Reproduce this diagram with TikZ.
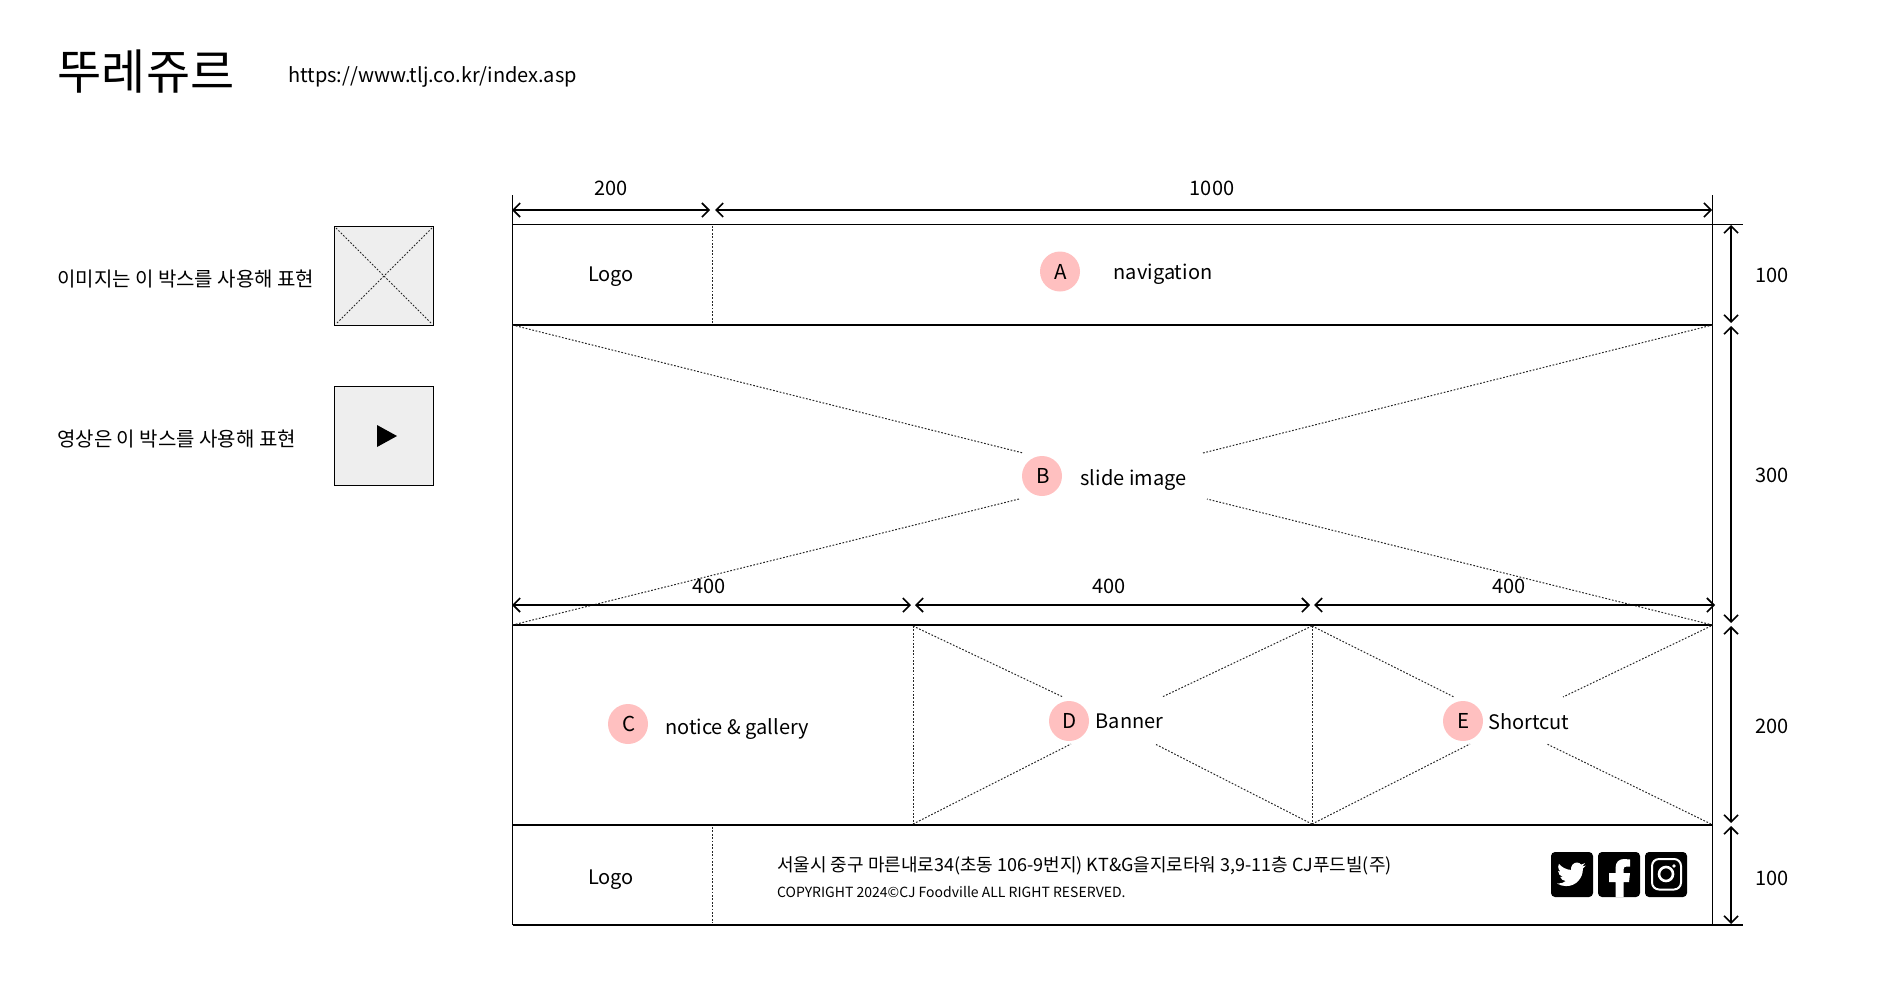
\documentclass[tikz,border=0pt]{standalone}
\usepackage{fontspec}
\setmainfont{Noto Sans CJK KR}
\usetikzlibrary{arrows.meta}
\definecolor{pinkdot}{HTML}{FFC0C0}
\definecolor{boxgray}{HTML}{EEEEEE}
\tikzset{
  txt/.style={inner sep=0pt,font=\fontsize{20}{24}\selectfont},
  dimtxt/.style={txt,font=\fontsize{20}{24}\selectfont},
  dot/.style={circle,fill=pinkdot,minimum size=40pt,inner sep=0pt},
  dotlabel/.style={inner sep=0pt,xshift=1pt,font=\fontsize{20.5}{24}\selectfont},
  rowline/.style={line width=2pt},
  frameline/.style={line width=1.1pt},
  dimline/.style={line width=1.8pt,{Straight Barb[length=7pt,width=14pt,line width=1.6pt]}-{Straight Barb[length=7pt,width=14pt,line width=1.6pt]}},
  dotline/.style={line width=1pt,dash pattern=on 1.7pt off 1.7pt,black!85},
  samplebox/.style={draw,line width=1pt,fill=boxgray,minimum width=99pt,minimum height=99pt,inner sep=0pt},
  social/.style={fill=black,rounded corners=4pt,minimum width=42pt,minimum height=45pt,inner sep=0pt}
}
\begin{document}
\begin{tikzpicture}[x=1pt,y=-1pt]
  \useasboundingbox (0,0) rectangle (1900,997);
  %title
  \node[txt,anchor=west,font=\fontsize{48}{56}\selectfont] (title) at (57.5,72) {뚜레쥬르};
  \node[txt,anchor=west] (url) at (288,77) {https://www.tlj.co.kr/index.asp};
  %sample boxes
  \node[txt,anchor=west] (imgnote) at (57,279.5) {이미지는 이 박스를 사용해 표현};
  \node[txt,anchor=west] (videonote) at (57,439) {영상은 이 박스를 사용해 표현};
  \node[samplebox] (imgbox) at (384,276) {};
  \node[samplebox] (videobox) at (384,436) {};
  \draw[dotline] ([shift={(2,2)}]imgbox.north west) -- ([shift={(-2,-2)}]imgbox.south east);
  \draw[dotline] ([shift={(-2,2)}]imgbox.north east) -- ([shift={(2,-2)}]imgbox.south west);
  \fill (377,425) -- (397,436) -- (377,447) -- cycle;
  %frame
  \coordinate (tl) at (512.5,224.5);
  \coordinate (tr) at (1712.5,224.5);
  \coordinate (bl) at (512.5,925);
  \coordinate (br) at (1712.5,925);
  \coordinate (rowa) at (512.5,325);
  \coordinate (rowb) at (512.5,625);
  \coordinate (rowc) at (512.5,825);
  \coordinate (rowa2) at (1712.5,325);
  \coordinate (rowb2) at (1712.5,625);
  \coordinate (rowc2) at (1712.5,825);
  \coordinate (ltick) at (512.5,195);
  \coordinate (rtick) at (1712.5,195);
  \draw[frameline] (ltick) -- (bl);
  \draw[frameline] (rtick) -- (br);
  \draw[frameline] (tl) -- (1743,224.5) coordinate (topend);
  \draw[frameline] (bl) -- (1743,925) coordinate (botend);
  \draw[rowline] (rowa) -- (rowa2);
  \draw[rowline] (rowb) -- (rowb2);
  \draw[rowline] (rowc) -- (rowc2);
  %top dims
  \draw[dimline] (512,210) coordinate (da) -- (710,210) coordinate (db);
  \draw[dimline] (715,210) coordinate (dc) -- (1712,210) coordinate (dd);
  \node[dimtxt] (wa) at (611,188) {200};
  \node[dimtxt] (wb) at (1212,188) {1000};
  %right dims
  \draw[dimline] (1731,225) coordinate (ha) -- (1731,323) coordinate (hb);
  \draw[dimline] (1731,326) coordinate (hc) -- (1731,623) coordinate (hd);
  \draw[dimline] (1731,626) coordinate (he) -- (1731,823) coordinate (hf);
  \draw[dimline] (1731,826) coordinate (hg) -- (1731,924) coordinate (hh);
  \node[dimtxt] (va) at (1772,275) {100};
  \node[dimtxt] (vb) at (1772,475.5) {300};
  \node[dimtxt] (vc) at (1772,726) {200};
  \node[dimtxt] (vd) at (1772,878.5) {100};
  %header
  \node[txt] (logoa) at (611,277) {Logo};
  \draw[dotline] (712.5,226) coordinate (sa) -- (712.5,323) coordinate (sb);
  \node[dot] (a) at (1060,271.5) {};
  \node[dotlabel] (alabel) at (a) {A};
  \node[txt] (nav) at (1163,274.5) {navigation};
  %slide
  \node[dot] (b) at (1042,476) {};
  \node[dotlabel] (blabel) at (b) {B};
  \node[txt] (slide) at (1133.5,480) {slide image};
  \coordinate (ba) at (1023,453);
  \coordinate (bb) at (1203,453);
  \coordinate (bc) at (1019,499);
  \coordinate (bd) at (1207,499);
  \draw[dotline] (rowa) -- (ba);
  \draw[dotline] (rowa2) -- (bb);
  \draw[dotline] (rowb) -- (bc);
  \draw[dotline] (rowb2) -- (bd);
  %middle dims
  \draw[dimline] (512,605) coordinate (ma) -- (911,605) coordinate (mb);
  \draw[dimline] (915,605) coordinate (mc) -- (1310,605) coordinate (md);
  \draw[dimline] (1314,605) coordinate (me) -- (1715,605) coordinate (mf);
  \node[dimtxt] (xa) at (709,586) {400};
  \node[dimtxt] (xb) at (1109,586) {400};
  \node[dimtxt] (xc) at (1509,586) {400};
  %contents
  \node[dot] (c) at (628,724) {};
  \node[dotlabel] (clabel) at (c) {C};
  \node[txt] (notice) at (737,729) {notice \& gallery};
  \node[dot] (d) at (1069,721) {};
  \node[dotlabel] (dlabel) at (d) {D};
  \node[txt,anchor=west] (banner) at (1095.5,721.5) {Banner};
  \node[dot] (e) at (1463,721) {};
  \node[dotlabel] (elabel) at (e) {E};
  \node[txt,anchor=west] (shortcut) at (1488,721.5) {Shortcut};
  \coordinate (pa) at (913,626);
  \coordinate (pb) at (913,824);
  \coordinate (qa) at (1312,626);
  \coordinate (qb) at (1312,824);
  \coordinate (ra) at (1711,626);
  \coordinate (rb) at (1711,824);
  \draw[dotline] (pa) -- (pb);
  \draw[dotline] (qa) -- (qb);
  \draw[dotline] (pa) -- (1063,697) coordinate (da1);
  \draw[dotline] (pb) -- (1071,744) coordinate (da2);
  \draw[dotline] (qa) -- (1162,697) coordinate (da3);
  \draw[dotline] (qb) -- (1155,744) coordinate (da4);
  \draw[dotline] (qa) -- (1454,697) coordinate (ea1);
  \draw[dotline] (qb) -- (1470,744) coordinate (ea2);
  \draw[dotline] (ra) -- (1563,697) coordinate (ea3);
  \draw[dotline] (rb) -- (1547,744) coordinate (ea4);
  %footer
  \node[txt] (logob) at (611,880) {Logo};
  \draw[dotline] (712.5,827) coordinate (sc) -- (712.5,923) coordinate (sd);
  \node[txt,anchor=west,font=\fontsize{18}{22}\selectfont] (addr) at (777,865.5) {서울시 중구 마른내로34(초동 106-9번지) KT\&G을지로타워 3,9-11층 CJ푸드빌(주)};
  \node[txt,anchor=west,font=\fontsize{14}{18}\selectfont] (copy) at (777,892.5) {COPYRIGHT 2024©CJ Foodville ALL RIGHT RESERVED.};
  %icons
  \node[social] (twitter) at (1572,874.5) {};
  \node[social] (facebook) at (1619,874.5) {};
  \node[social] (instagram) at (1666,874.5) {};
  \begin{scope}[shift={(1557,860)},x=1.2pt,y=-1.2pt]
    \fill[white] (24,4.6) .. controls (23.1,5) and (22.1,5.25) .. (21.13,5.35)
      .. controls (22.1,4.75) and (22.9,3.8) .. (23.29,2.62)
      .. controls (22.34,3.18) and (21.28,3.58) .. (20.16,3.8)
      .. controls (19.3,2.8) and (18,2.08) .. (16.6,2.08)
      .. controls (13.9,2.08) and (11.1,4.8) .. (11.78,8.29)
      .. controls (7.69,8.1) and (4.07,6.13) .. (1.64,3.16)
      .. controls (1.2,3.9) and (.97,4.75) .. (.97,5.64)
      .. controls (.97,7.35) and (1.84,8.85) .. (3.16,9.73)
      .. controls (2.35,9.7) and (1.6,9.5) .. (.93,9.11)
      -- (.93,9.17)
      .. controls (.93,11.55) and (2.6,13.55) .. (4.88,14)
      .. controls (4.15,14.2) and (3.4,14.22) .. (2.67,14.08)
      .. controls (3.3,16.05) and (5.15,17.45) .. (7.27,17.5)
      .. controls (5.6,18.85) and (3.45,19.6) .. (1.17,19.6)
      .. controls (.78,19.6) and (.39,19.58) .. (0,19.54)
      .. controls (2.2,20.95) and (4.8,21.75) .. (7.56,21.75)
      .. controls (16.6,21.75) and (21.55,14.25) .. (21.55,7.76)
      .. controls (21.55,7.55) and (21.55,7.34) .. (21.54,7.13)
      .. controls (22.5,6.43) and (23.35,5.56) .. (24,4.6) -- cycle;
  \end{scope}
  \fill[white] (1615.5,897) -- (1615.5,882) -- (1609,882) -- (1609,873) -- (1615.5,873) -- (1615.5,868)
    .. controls (1615.5,862) and (1619,859) .. (1624,859) -- (1630,859.5) -- (1630,866.5) -- (1626.5,866.5)
    .. controls (1624.5,866.5) and (1623.5,867.5) .. (1623.5,869.5) -- (1623.5,873) -- (1630,873) -- (1629,882) -- (1623.5,882) -- (1623.5,897) -- cycle;
  \draw[white,line width=2pt,rounded corners=7pt] (1652,859) rectangle (1681,889.5);
  \draw[white,line width=2.6pt] (1666,874) circle (7);
  \fill[white] (1674,866) circle (1.8);
\end{tikzpicture}
\end{document}
